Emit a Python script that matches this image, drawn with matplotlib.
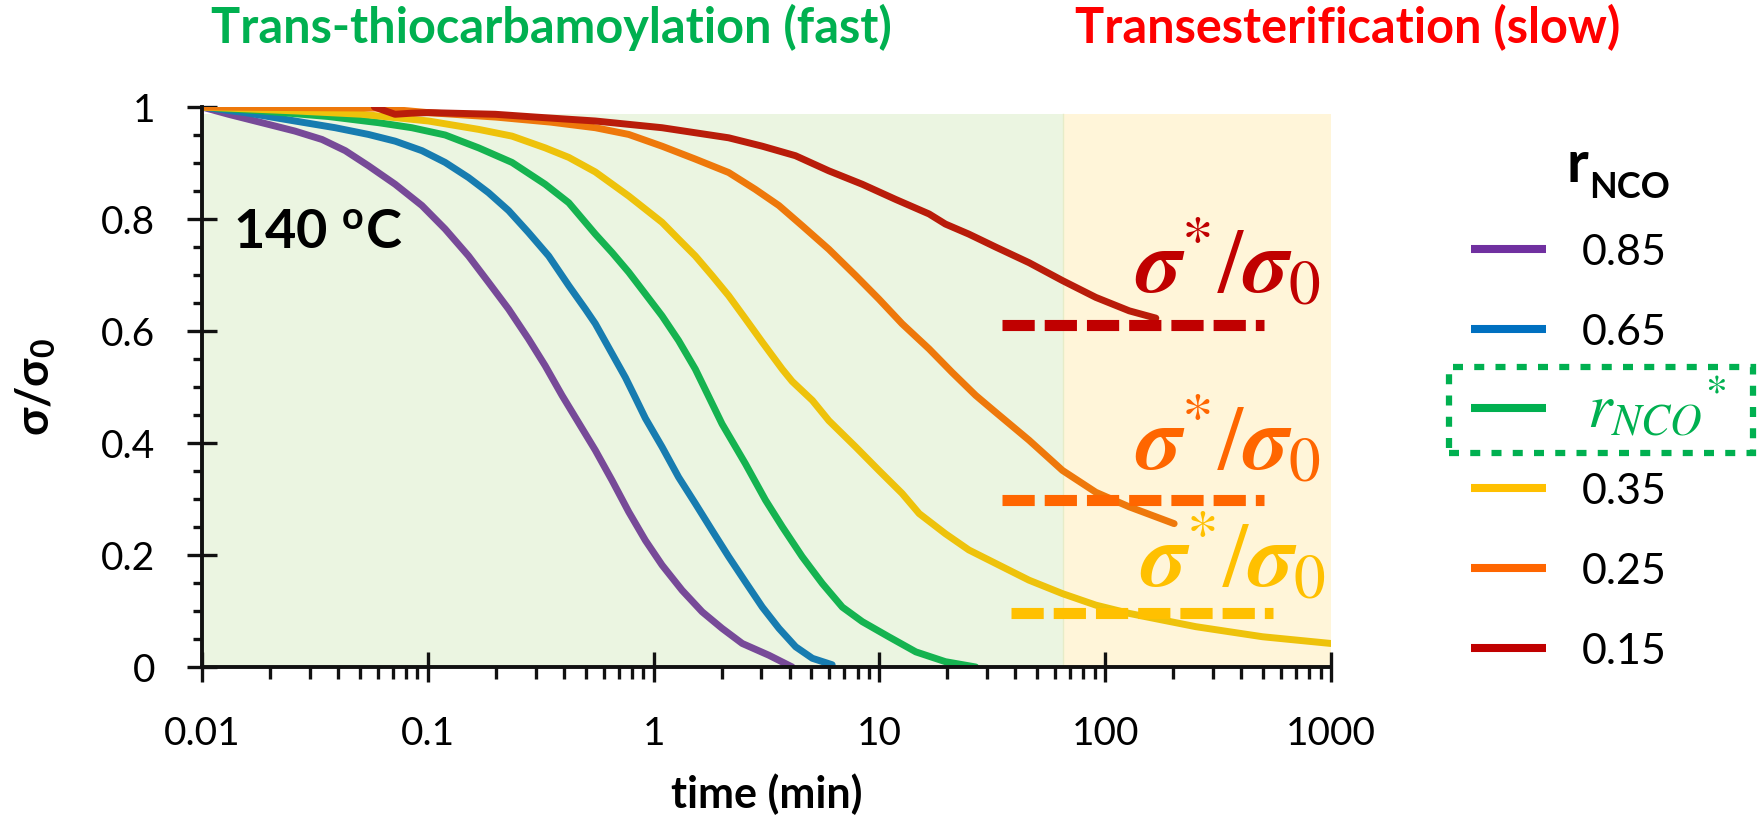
import matplotlib
matplotlib.use("Agg")
import matplotlib.pyplot as plt
from matplotlib.lines import Line2D
from matplotlib.patches import Rectangle
from matplotlib.ticker import FixedLocator, FuncFormatter, MultipleLocator, LogLocator, NullFormatter

plt.rcParams['font.family'] = ['Lato', 'DejaVu Sans']
plt.rcParams['mathtext.fontset'] = 'custom'
plt.rcParams['mathtext.rm'] = 'STIXGeneral'
plt.rcParams['mathtext.it'] = 'STIXGeneral:italic'
plt.rcParams['mathtext.bf'] = 'STIXGeneral:italic:bold'

# ---------------- data ----------------
t_085 = [0.01, 0.0131, 0.0184, 0.0258, 0.0340, 0.0431, 0.0546, 0.0717, 0.0942, 0.1194, 0.1515, 0.1857,
         0.228, 0.279, 0.331, 0.393, 0.552, 0.655, 0.776, 0.920, 1.09, 1.337, 1.64, 2.01, 2.47, 3.24, 4.11]
s_085 = [1.0, 0.987, 0.972, 0.957, 0.942, 0.922, 0.895, 0.862, 0.824, 0.782, 0.734, 0.687,
         0.639, 0.586, 0.538, 0.485, 0.387, 0.333, 0.277, 0.226, 0.182, 0.137, 0.0986, 0.069, 0.042, 0.021, 0.0]

t_065 = [0.01, 0.0155, 0.0258, 0.0389, 0.0546, 0.0717, 0.0942, 0.1194, 0.1515, 0.1857, 0.228, 0.279, 0.343,
         0.421, 0.499, 0.552, 0.677, 0.750, 0.830, 0.920, 1.09, 1.29, 1.53, 1.815, 2.15, 2.55, 3.03, 3.59, 4.26, 5.05, 6.18]
s_065 = [1.0, 0.990, 0.975, 0.963, 0.951, 0.939, 0.922, 0.901, 0.874, 0.847, 0.815, 0.776, 0.734,
         0.681, 0.639, 0.613, 0.549, 0.517, 0.481, 0.444, 0.393, 0.339, 0.292, 0.244, 0.197, 0.152, 0.107, 0.069, 0.036, 0.0155, 0.004]

t_star = [0.01, 0.0184, 0.0363, 0.0605, 0.0850, 0.1194, 0.168, 0.236, 0.331, 0.421, 0.552, 0.655, 0.776, 0.920,
          1.09, 1.29, 1.53, 2.01, 2.55, 3.13, 3.72, 4.55, 5.59, 6.85, 8.40, 11.0, 14.5, 19.6, 26.7]
s_star = [1.0, 0.993, 0.983, 0.972, 0.963, 0.950, 0.927, 0.901, 0.862, 0.829, 0.773, 0.740, 0.705, 0.666,
          0.627, 0.583, 0.532, 0.434, 0.363, 0.298, 0.250, 0.197, 0.149, 0.107, 0.081, 0.054, 0.027, 0.0095, 0.0]

t_035 = [0.01, 0.0258, 0.0510, 0.1007, 0.168, 0.236, 0.331, 0.421, 0.552, 0.776, 1.09, 1.29, 1.53, 1.815, 2.15,
         2.55, 3.03, 3.71, 4.11, 5.05, 5.97, 7.85, 9.95, 12.6, 15.0, 19.6, 24.9, 32.7, 46.0, 64.7, 90.9, 127.8,
         179.5, 252, 498, 1000]
s_035 = [1.0, 0.993, 0.987, 0.975, 0.960, 0.948, 0.927, 0.910, 0.884, 0.841, 0.794, 0.764, 0.734, 0.699, 0.663,
         0.622, 0.580, 0.532, 0.510, 0.476, 0.440, 0.393, 0.351, 0.310, 0.274, 0.238, 0.209, 0.185, 0.155, 0.131, 0.1105, 0.0957,
         0.0838, 0.072, 0.054, 0.042]

t_025 = [0.01, 0.06, 0.1, 0.2, 0.35, 0.552, 0.776, 1.09, 1.53, 2.15, 2.82, 3.59, 4.55, 5.97, 7.85, 9.95, 12.6,
         16.6, 21.0, 26.7, 32.7, 46.0, 64.7, 90.9, 127.8, 202]
s_025 = [1.0, 0.998, 0.99, 0.982, 0.973, 0.963, 0.951, 0.930, 0.907, 0.883, 0.853, 0.824, 0.788, 0.746, 0.699, 0.657, 0.613,
         0.568, 0.526, 0.485, 0.455, 0.405, 0.351, 0.312, 0.286, 0.256]

t_015 = [0.058, 0.066, 0.0716, 0.085, 0.1006, 0.199, 0.3, 0.552, 0.776, 1.09, 1.53, 2.15, 3.03, 4.25, 5.97, 8.40,
         11.8, 16.6, 19.6, 24.9, 32.7, 46.0, 64.7, 90.9, 127.8, 167.6]
s_015 = [1.0, 0.992, 0.987, 0.989, 0.990, 0.987, 0.982, 0.975, 0.969, 0.963, 0.954, 0.945, 0.930, 0.913, 0.886, 0.862,
         0.835, 0.809, 0.791, 0.773, 0.750, 0.722, 0.690, 0.660, 0.636, 0.623]

series_t = [t_085, t_065, t_star, t_035, t_025, t_015]
series_s = [s_085, s_065, s_star, s_035, s_025, s_015]
legend_labels = ['0.85', '0.65', r'$r_{NCO}{}^{*}$', '0.35', '0.25', '0.15']
curve_colors = ['#774A98', '#177CB0', '#15B350', '#EEC20B', '#EE780B', '#B91C0A']
legend_colors = ['#7030A0', '#0070C0', '#00B050', '#FFC000', '#FF6600', '#C00000']

# sigma*/sigma0 plateau levels (red, orange, yellow)
star_levels = [0.611, 0.298, 0.096]
star_t_start = [35.0, 35.0, 38.2]
star_t_end = [506, 506, 551]
star_colors = ['#C00000', '#FF6600', '#FFC000']

regime_split = 65.3
x_ticks = [0.01, 0.1, 1, 10, 100, 1000]
y_ticks = [0, 0.2, 0.4, 0.6, 0.8, 1.0]

# ---------------- figure ----------------
W, H = 1763, 819
fig = plt.figure(figsize=(W / 100, H / 100), dpi=100)
ax = fig.add_axes([202 / W, 152 / H, (1331 - 202) / W, (712 - 152) / H])
ax.set_xscale('log')
ax.set_xlim(0.01, 1000)
ax.set_ylim(0, 1)
ax.patch.set_alpha(0)

ax.axvspan(0.01, regime_split, ymin=0, ymax=0.988, color='#EBF5E1', lw=0, zorder=0)
ax.axvspan(regime_split, 1000, ymin=0, ymax=0.988, color='#FFF5D9', lw=0, zorder=0)
ax.plot([regime_split, regime_split], [0, 0.988], color='#E6ECC8', lw=1, zorder=0.5)

for t, s, c in zip(series_t, series_s, curve_colors):
    ax.plot(t, s, color=c, lw=5, solid_capstyle='round', solid_joinstyle='round', zorder=3)

for lvl, t0, t1, c in zip(star_levels, star_t_start, star_t_end, star_colors):
    ax.plot([t0, t1], [lvl, lvl], color=c, lw=8, dashes=(2.9, 0.9), dash_capstyle='butt', zorder=4)

sig = r'$\mathbf{\sigma}^{*}/\mathbf{\sigma}_{0}$'
ax.text(0.8264, 0.6696, sig, transform=ax.transAxes, color='#C00000', fontsize=65, ha='left', va='baseline', zorder=5)
ax.text(0.8264, 0.3518, sig, transform=ax.transAxes, color='#FF6600', fontsize=65, ha='left', va='baseline', zorder=5)
ax.text(0.8308, 0.1429, sig, transform=ax.transAxes, color='#FFC000', fontsize=65, ha='left', va='baseline', zorder=5)

ax.text(0.0275, 0.746, r'140 $^{\mathregular{o}}$C', transform=ax.transAxes, fontsize=39,
        weight='bold', family='Lato', ha='left', va='baseline', zorder=5)

# axes styling
for sp in ['top', 'right']:
    ax.spines[sp].set_visible(False)
for sp in ['left', 'bottom']:
    ax.spines[sp].set_linewidth(2.8)
    ax.spines[sp].set_color('#111111')
    ax.spines[sp].set_zorder(6)

ax.xaxis.set_major_locator(FixedLocator(x_ticks))
ax.xaxis.set_major_formatter(FuncFormatter(lambda v, p: '%g' % v))
ax.xaxis.set_minor_locator(LogLocator(base=10, subs=range(2, 10), numticks=20))
ax.xaxis.set_minor_formatter(NullFormatter())
ax.yaxis.set_major_locator(FixedLocator(y_ticks))
ax.yaxis.set_major_formatter(FuncFormatter(lambda v, p: '%g' % v))
ax.yaxis.set_minor_locator(MultipleLocator(0.05))

ax.tick_params(axis='both', which='major', direction='inout', length=21, width=2.4,
               color='#111111', labelsize=28)
ax.tick_params(axis='x', which='major', pad=25)
ax.tick_params(axis='y', which='major', pad=23)
ax.tick_params(axis='x', which='minor', direction='out', length=8.5, width=2.4, color='#111111')
ax.tick_params(axis='y', which='minor', direction='out', length=6.5, width=2.4, color='#111111')

ax.set_xlabel('time (min)', fontsize=31, weight='bold')
ax.xaxis.label.set_va('baseline')
ax.xaxis.set_label_coords(0.5, (819 - 808 - 152) / 560)
ax.set_ylabel(r'σ/σ$_{\mathregular{0}}$', fontsize=33, weight='bold')
ax.yaxis.label.set_va('center')
ax.yaxis.set_label_coords((35 - 202) / 1129, 0.5)

# headers
def fx(x):
    return x / W

def fy(y):
    return 1 - y / H

fig.text(fx(551), fy(43), 'Trans-thiocarbamoylation (fast)', color='#00B050', fontsize=35,
         weight='bold', ha='center', va='baseline')
fig.text(fx(1348), fy(43), 'Transesterification (slow)', color='#FF0000', fontsize=35,
         weight='bold', ha='center', va='baseline')

# legend (manual)
fig.text(fx(1567), fy(182), 'r', fontsize=42, weight='bold', ha='left', va='baseline')
fig.text(fx(1589), fy(198), 'NCO', fontsize=26, weight='bold', ha='left', va='baseline')
row_y = [249, 329, 408, 488, 568, 648]
for yy, lab, c in zip(row_y, legend_labels, legend_colors):
    fig.add_artist(Line2D([fx(1471), fx(1546)], [fy(yy), fy(yy)], color=c, lw=5.8,
                          solid_capstyle='butt', transform=fig.transFigure))
    if lab.startswith('$'):
        fig.text(fx(1587), fy(yy + 20), lab, fontsize=45, color='#00B050', ha='left', va='baseline')
    else:
        fig.text(fx(1582), fy(yy + 16), lab, fontsize=31, ha='left', va='baseline')

fig.add_artist(Rectangle((fx(1449), fy(453)), fx(1753) - fx(1449), fy(367) - fy(453),
                         transform=fig.transFigure, fill=False, edgecolor='#00B050', lw=4.5,
                         linestyle=(0, (1.6, 1.8)), capstyle='butt'))

fig.savefig('out.png', dpi=100)
